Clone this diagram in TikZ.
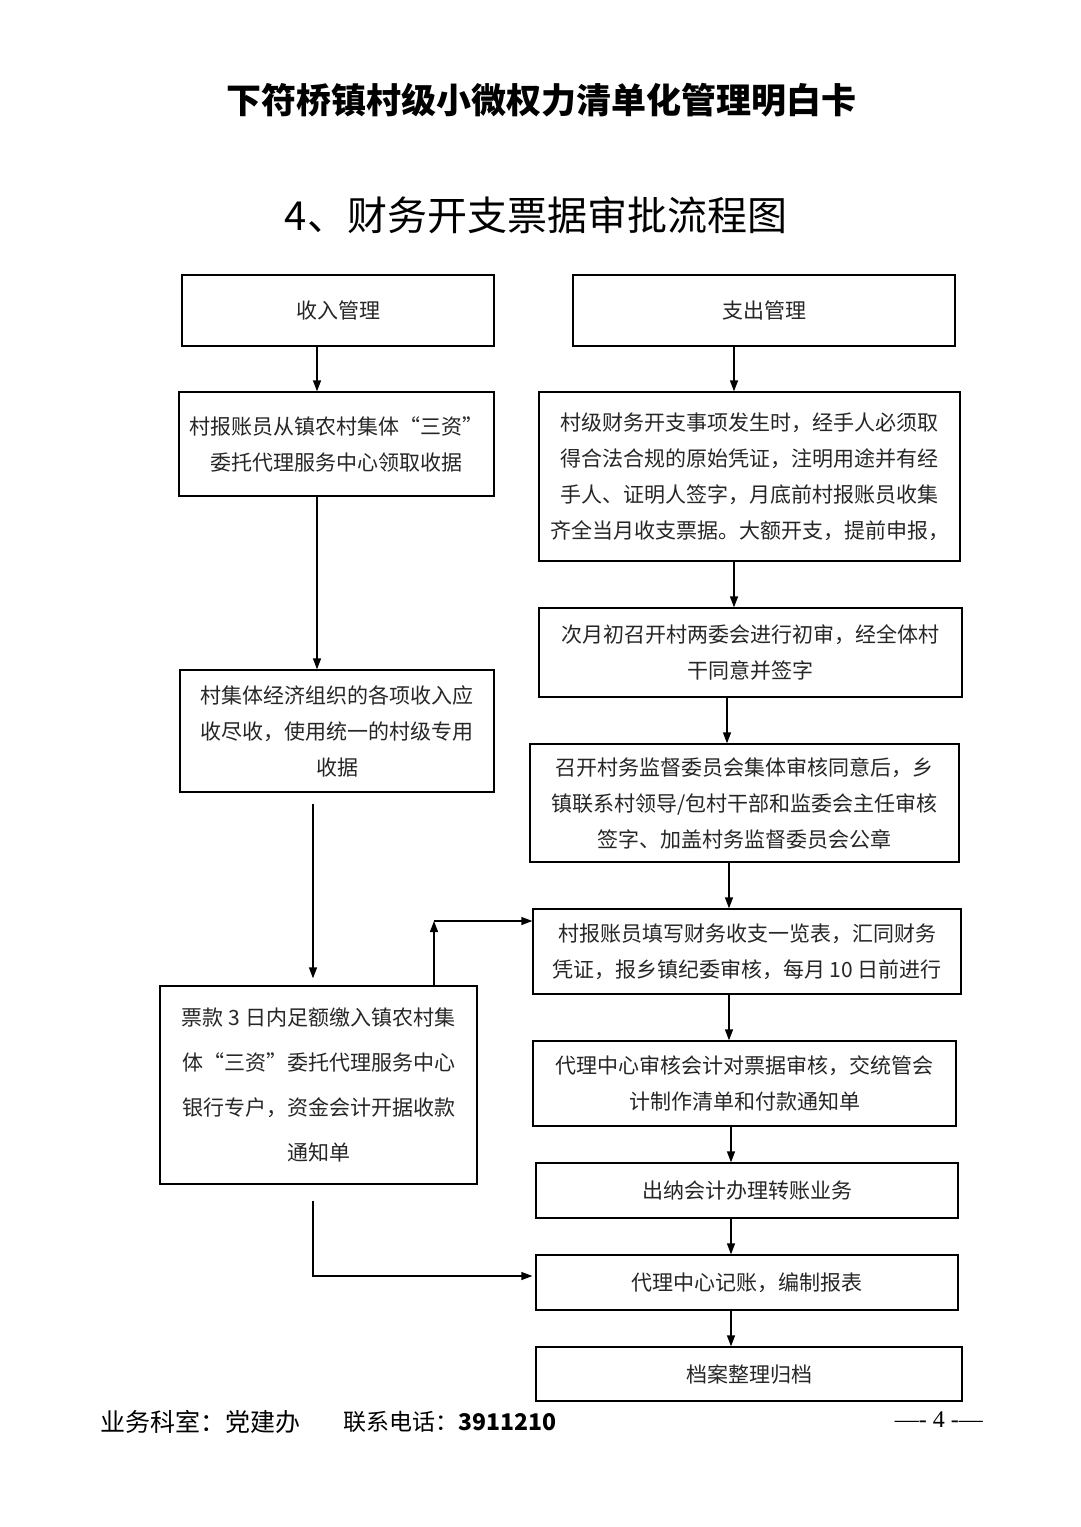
\documentclass[tikz,border=0pt]{standalone}
\usepackage{fontspec}
\setmainfont{Noto Sans CJK SC}
\newfontfamily\pagefont{Liberation Serif}
\usetikzlibrary{arrows.meta}

\tikzset{
  box/.style={draw, line width=1.3pt, inner sep=0pt, align=center, text=black!85,
    font=\fontsize{21}{36}\selectfont},
  arr/.style={-{Triangle[length=11pt,width=8pt]}, line width=1.3pt},
}

\begin{document}
\begin{tikzpicture}[x=1pt,y=-1pt]
\fill[white] (0,0) rectangle (1080,1527);
\useasboundingbox (0,0) rectangle (1080,1527);

% titles
\node[font=\fontsize{35}{40}\selectfont\bfseries] (title) at (541,100) {下符桥镇村级小微权力清单化管理明白卡};
\node[font=\fontsize{40}{46}\selectfont] (subtitle) at (536,215) {4、财务开支票据审批流程图};

% left column: income
\node[box, minimum width=312pt, minimum height=71pt] (l1) at (338,310.5) {收入管理};
\node[box, minimum width=315pt, minimum height=104pt] (l2) at (336.5,444)
  {村报账员从镇农村集体“三资”\\委托代理服务中心领取收据};
\node[box, minimum width=314pt, minimum height=122pt] (l3) at (337,731)
  {村集体经济组织的各项收入应\\收尽收，使用统一的村级专用\\收据};
\node[box, minimum width=317pt, minimum height=198pt, font=\fontsize{21}{45}\selectfont] (l4) at (318.5,1085)
  {票款 3 日内足额缴入镇农村集\\体“三资”委托代理服务中心\\银行专户，资金会计开据收款\\通知单};

% right column: expenditure
\node[box, minimum width=382pt, minimum height=71pt] (r1) at (764,310.5) {支出管理};
\node[box, minimum width=421pt, minimum height=169pt] (r2) at (749.5,476.5)
  {村级财务开支事项发生时，经手人必须取\\得合法合规的原始凭证，注明用途并有经\\手人、证明人签字，月底前村报账员收集\\齐全当月收支票据。大额开支，提前申报，};
\node[box, minimum width=423pt, minimum height=89pt] (r3) at (750.5,652.5)
  {次月初召开村两委会进行初审，经全体村\\干同意并签字};
\node[box, minimum width=429pt, minimum height=118pt] (r4) at (744.5,803)
  {召开村务监督委员会集体审核同意后，乡\\镇联系村领导/包村干部和监委会主任审核\\签字、加盖村务监督委员会公章};
\node[box, minimum width=428pt, minimum height=85pt] (r5) at (747,951.5)
  {村报账员填写财务收支一览表，汇同财务\\凭证，报乡镇纪委审核，每月 10 日前进行};
\node[box, minimum width=423pt, minimum height=85pt] (r6) at (744.5,1083.5)
  {代理中心审核会计对票据审核，交统管会\\计制作清单和付款通知单};
\node[box, minimum width=422pt, minimum height=55pt] (r7) at (747,1190.5) {出纳会计办理转账业务};
\node[box, minimum width=422pt, minimum height=55pt] (r8) at (747,1282.5) {代理中心记账，编制报表};
\node[box, minimum width=426pt, minimum height=54pt] (r9) at (749,1374) {档案整理归档};

% left arrows
\draw[arr] (317,0 |- l1.south) -- (317,0 |- l2.north);
\draw[arr] (317,0 |- l2.south) -- (317,0 |- l3.north);
\draw[arr, shorten <=11pt, shorten >=7pt] (313,0 |- l3.south) -- (313,0 |- l4.north);
\coordinate (bend) at (434,921);
\draw[arr] (434,0 |- l4.north) -- (bend);
\draw[arr] (bend) -- (bend -| r5.west);
\coordinate (turn) at (313,1276);
\draw[arr, shorten <=16pt] (313,0 |- l4.south) -- (turn) -- ([xshift=-3pt]turn -| r8.west);

% right arrows
\draw[arr] (734,0 |- r1.south) -- (734,0 |- r2.north);
\draw[arr] (734,0 |- r2.south) -- (734,0 |- r3.north);
\draw[arr] (727,0 |- r3.south) -- (727,0 |- r4.north);
\draw[arr] (729,0 |- r4.south) -- (729,0 |- r5.north);
\draw[arr] (729,0 |- r5.south) -- (729,0 |- r6.north);
\draw[arr] (731,0 |- r6.south) -- (731,0 |- r7.north);
\draw[arr] (731,0 |- r7.south) -- (731,0 |- r8.north);
\draw[arr] (731,0 |- r8.south) -- (731,0 |- r9.north);

% footer
\node[anchor=west, font=\fontsize{25}{28}\selectfont, inner sep=0pt] (dept) at (100,1422) {业务科室：党建办};
\node[anchor=west, font=\fontsize{23}{26}\selectfont, inner sep=0pt] (phone) at (343,1422) {联系电话：\textbf{3911210}};
\node[anchor=east, font=\fontsize{24}{26}\selectfont\pagefont, inner sep=0pt] (page) at (983,1420) {—- 4 -—};
\end{tikzpicture}
\end{document}
